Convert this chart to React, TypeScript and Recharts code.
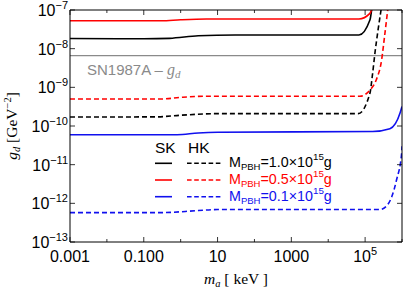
import React from 'react';
import { LineChart, Line, XAxis, YAxis, ReferenceLine, Customized } from 'recharts';

const W = 407;
const H = 292;
const SANS = '"Liberation Sans", Arial, Helvetica, sans-serif';
const SERIF = '"Liberation Serif", "Times New Roman", serif';

// axis ticks
const xTicks = [1e-3, 1e-2, 1e-1, 1, 10, 100, 1e3, 1e4, 1e5, 1e6];
const xTickLabels = ['0.001', '', '0.100', '', '10', '', '1000', '', '10^5', ''];
const yTicks = [1e-13, 1e-12, 1e-11, 1e-10, 1e-9, 1e-8, 1e-7];
const yTickLabels = ['10^−13', '10^−12', '10^−11', '10^−10', '10^−9', '10^−8', '10^−7'];

// SK, M = 1.0e15 g (black solid)
const skBlackX = [1e-3, 0.1, 0.5, 3, 30, 6.8e4, 1.35e5, 1.5e5];
const skBlackY = [1.83e-8, 1.8e-8, 1.85e-8, 2.15e-8, 2.25e-8, 2.25e-8, 5.5e-8, 1e-7];
// SK, M = 0.5e15 g (red solid)
const skRedX = [1e-3, 0.3, 1, 5, 6.8e4, 1.35e5, 1.5e5];
const skRedY = [5.28e-8, 5.28e-8, 5.6e-8, 5.85e-8, 5.85e-8, 8.2e-8, 1e-7];
// SK, M = 0.1e15 g (blue solid)
const skBlueX = [1e-3, 0.8, 3, 10, 1.6e5, 4.7e5, 8.9e5, 1e6];
const skBlueY = [5.96e-11, 5.96e-11, 6.6e-11, 6.87e-11, 7.2e-11, 8.5e-11, 2.2e-10, 3.2e-10];
// HK, M = 1.0e15 g (black dashed)
const hkBlackX = [1e-3, 0.2, 1, 10, 6.5e4, 1.35e5, 1.58e5, 1.86e5, 2.24e5, 2.7e5];
const hkBlackY = [1.71e-10, 1.72e-10, 1.9e-10, 2.09e-10, 2.09e-10, 7e-10, 2.1e-9, 8.1e-9, 3e-8, 1e-7];
// HK, M = 0.5e15 g (red dashed)
const hkRedX = [1e-3, 0.3, 1, 5, 7.2e4, 1.35e5, 2e5, 2.8e5, 3.4e5, 4.1e5];
const hkRedY = [5.0e-10, 5.0e-10, 5.5e-10, 5.9e-10, 5.9e-10, 8.5e-10, 1.55e-9, 5.1e-9, 2.25e-8, 1e-7];
// HK, M = 0.1e15 g (blue dashed)
const hkBlueX = [1e-3, 0.3, 3, 10, 2.5e5, 4e5, 5.3e5, 7.1e5, 9.8e5, 1e6];
const hkBlueY = [5.75e-13, 5.75e-13, 6.5e-13, 6.9e-13, 6.9e-13, 9e-13, 1.5e-12, 4e-12, 2e-11, 3e-11];

// SN1987A bound
const sn1987aY = 6.6e-9;

const legendLabels = ['1.0', '0.5', '0.1'];

const BLACK = '#000000';
const RED = '#ff0000';
const BLUE = '#1010ee';
const GRAY = '#8a8a8a';

const toPts = (xs: number[], ys: number[]) => xs.map((x, i) => ({ x, y: ys[i] }));

const series = [
  { key: 'skBlack', data: toPts(skBlackX, skBlackY), color: BLACK, dash: undefined },
  { key: 'skRed', data: toPts(skRedX, skRedY), color: RED, dash: undefined },
  { key: 'skBlue', data: toPts(skBlueX, skBlueY), color: BLUE, dash: undefined },
  { key: 'hkBlack', data: toPts(hkBlackX, hkBlackY), color: BLACK, dash: '5 3' },
  { key: 'hkRed', data: toPts(hkRedX, hkRedY), color: RED, dash: '5 3' },
  { key: 'hkBlue', data: toPts(hkBlueX, hkBlueY), color: BLUE, dash: '5 3' },
];

const SupLabel = ({ x, y, text, anchor, size = 16 }: any) => {
  const [base, sup] = text.split('^');
  return (
    <text x={x} y={y} textAnchor={anchor} fontFamily={SANS} fontSize={size} fill="#000">
      {base}
      {sup !== undefined && (
        <tspan fontSize={11} dy={-7}>
          {sup}
        </tspan>
      )}
    </text>
  );
};

const xIdx = (v: number) => Math.round(Math.log10(v)) + 3;
const yIdx = (v: number) => Math.round(Math.log10(v)) + 13;

const BottomTick = (props: any) => {
  const { x, y, payload } = props;
  const lbl = xTickLabels[xIdx(payload.value)] || '';
  const major = lbl !== '';
  return (
    <g>
      <line x1={x} y1={y} x2={x} y2={y - (major ? 5 : 3)} stroke="#000" strokeWidth={0.8} />
      {major && <SupLabel x={x} y={y + 20} text={lbl} anchor="middle" />}
    </g>
  );
};

const TopTick = (props: any) => {
  const { x, y, payload } = props;
  const major = (xTickLabels[xIdx(payload.value)] || '') !== '';
  return <line x1={x} y1={y} x2={x} y2={y + (major ? 5 : 3)} stroke="#000" strokeWidth={0.8} />;
};

const LeftTick = (props: any) => {
  const { x, y, payload } = props;
  const lbl = yTickLabels[yIdx(payload.value)] || '';
  return (
    <g>
      <line x1={x} y1={y} x2={x + 5} y2={y} stroke="#000" strokeWidth={0.8} />
      <SupLabel x={x - 2} y={y + 6} text={lbl} anchor="end" />
    </g>
  );
};

const RightTick = (props: any) => {
  const { x, y } = props;
  return <line x1={x - 5} y1={y} x2={x} y2={y} stroke="#000" strokeWidth={0.8} />;
};

const Decorations = () => {
  const rows = [BLACK, RED, BLUE];
  const rowY = [163.3, 180, 196.7];
  return (
    <g>
      {/* SN1987A label */}
      <text x={87} y={75} fontFamily={SANS} fontSize={15} fill={GRAY}>
        SN1987A – <tspan fontFamily={SERIF} fontStyle="italic" fontSize={16}>g</tspan>
        <tspan fontFamily={SERIF} fontStyle="italic" fontSize={11} dy={3}>d</tspan>
      </text>
      {/* legend */}
      <text x={155} y={153} fontFamily={SANS} fontSize={15.5} fill="#000">SK</text>
      <text x={188} y={153} fontFamily={SANS} fontSize={15.5} fill="#000">HK</text>
      {rows.map((c, i) => (
        <g key={i}>
          <line x1={155} y1={rowY[i]} x2={172} y2={rowY[i]} stroke={c} strokeWidth={1.6} />
          <line x1={187} y1={rowY[i]} x2={221} y2={rowY[i]} stroke={c} strokeWidth={1.6} strokeDasharray="4.6 2.6" />
          <text x={229} y={rowY[i] + 4} fontFamily={SANS} fontSize={14.3} fill={c}>
            M<tspan fontSize={9.5} dy={3}>PBH</tspan>
            <tspan dy={-3}>{'=' + legendLabels[i] + '×10'}</tspan>
            <tspan fontSize={9.8} dy={-7}>15</tspan>
            <tspan dy={7}>g</tspan>
          </text>
        </g>
      ))}
      {/* axis titles */}
      <text x={236} y={284} textAnchor="middle" fontFamily={SERIF} fontSize={15.5} fill="#000">
        <tspan fontStyle="italic">m</tspan>
        <tspan fontStyle="italic" fontSize={10.5} dy={3}>a</tspan>
        <tspan dy={-3}> [ keV ]</tspan>
      </text>
      <text transform="translate(17,126) rotate(-90)" textAnchor="middle" fontFamily={SERIF} fontSize={15.5} fill="#000">
        <tspan fontStyle="italic">g</tspan>
        <tspan fontStyle="italic" fontSize={10.5} dy={3}>d</tspan>
        <tspan dy={-3}> [GeV</tspan>
        <tspan fontSize={10.5} dy={-6}>−2</tspan>
        <tspan dy={6}>]</tspan>
      </text>
    </g>
  );
};

export default function App() {
  return (
    <div style={{ position: 'absolute', left: 0, top: 0, width: W, height: H, background: '#fff' }}>
      <LineChart width={W} height={H} margin={{ top: 9, right: 4, bottom: 0, left: 0 }}>
        <XAxis
          xAxisId="b"
          type="number"
          dataKey="x"
          scale="log"
          domain={[1e-3, 1e6]}
          allowDataOverflow
          ticks={xTicks}
          interval={0}
          height={50}
          tickSize={0}
          tickMargin={0}
          tickLine={false}
          axisLine={{ stroke: '#000', strokeWidth: 1 }}
          tick={<BottomTick />}
        />
        <XAxis
          xAxisId="t"
          orientation="top"
          type="number"
          dataKey="x"
          scale="log"
          domain={[1e-3, 1e6]}
          allowDataOverflow
          ticks={xTicks}
          interval={0}
          height={1}
          tickSize={0}
          tickMargin={0}
          tickLine={false}
          axisLine={{ stroke: '#000', strokeWidth: 1 }}
          tick={<TopTick />}
        />
        <YAxis
          yAxisId="l"
          type="number"
          dataKey="y"
          scale="log"
          domain={[1e-13, 1e-7]}
          allowDataOverflow
          ticks={yTicks}
          interval={0}
          width={70}
          tickSize={0}
          tickMargin={0}
          tickLine={false}
          axisLine={{ stroke: '#000', strokeWidth: 1 }}
          tick={<LeftTick />}
        />
        <YAxis
          yAxisId="r"
          orientation="right"
          type="number"
          dataKey="y"
          scale="log"
          domain={[1e-13, 1e-7]}
          allowDataOverflow
          ticks={yTicks}
          interval={0}
          width={1}
          tickSize={0}
          tickMargin={0}
          tickLine={false}
          axisLine={{ stroke: '#000', strokeWidth: 1 }}
          tick={<RightTick />}
        />
        <ReferenceLine
          xAxisId="b"
          yAxisId="l"
          y={sn1987aY}
          stroke={GRAY}
          strokeWidth={1.3}
          ifOverflow="extendDomain"
        />
        {series.map((s) => (
          <Line
            key={s.key}
            xAxisId="b"
            yAxisId="l"
            data={s.data}
            dataKey="y"
            type="monotone"
            stroke={s.color}
            strokeWidth={1.6}
            strokeDasharray={s.dash}
            dot={false}
            activeDot={false}
            isAnimationActive={false}
          />
        ))}
        <Customized component={Decorations} />
      </LineChart>
    </div>
  );
}
